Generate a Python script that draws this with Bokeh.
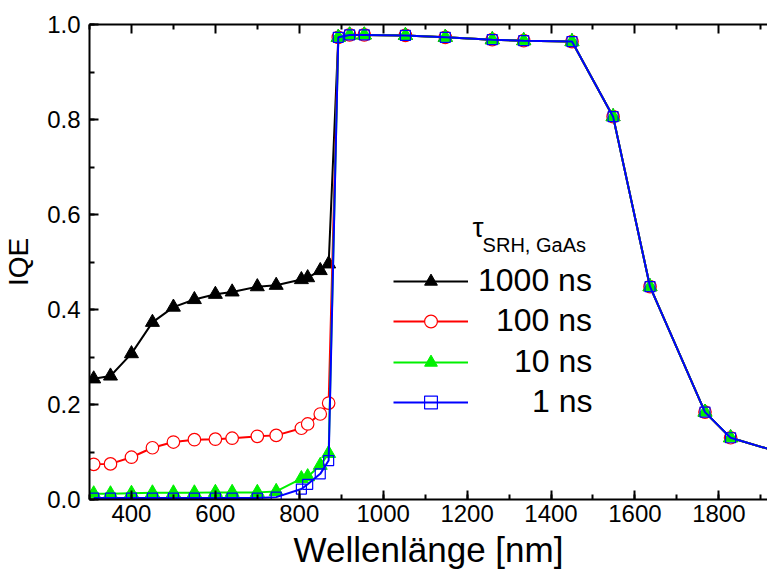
from bokeh.plotting import figure
from bokeh.models import (Legend, LegendItem, LinearAxis, SingleIntervalTicker,
                          FixedTicker, Label, Range1d, PrintfTickFormatter)
from bokeh.embed import file_html
from bokeh.resources import INLINE

# ---------------- data ----------------
wavelength = [310, 350, 400, 450, 500, 550, 600, 640, 700, 745, 805, 820, 850, 870,
              893, 920, 955, 1053, 1148, 1260, 1335, 1450, 1548, 1636, 1767, 1828, 1950]

iqe_1000ns = [0.254, 0.260, 0.307, 0.373, 0.405, 0.421, 0.432, 0.437, 0.448, 0.451,
              0.463, 0.467, 0.482, 0.496,
              0.973, 0.978, 0.978, 0.977, 0.973, 0.968, 0.966, 0.964, 0.806, 0.448,
              0.184, 0.130, 0.098]
iqe_100ns = [0.074, 0.075, 0.089, 0.109, 0.121, 0.126, 0.127, 0.129, 0.133, 0.135,
             0.150, 0.159, 0.180, 0.203,
             0.973, 0.978, 0.978, 0.977, 0.973, 0.968, 0.966, 0.964, 0.806, 0.448,
             0.184, 0.130, 0.098]
iqe_10ns = [0.012, 0.012, 0.013, 0.014, 0.014, 0.014, 0.015, 0.015, 0.015, 0.017,
            0.044, 0.048, 0.072, 0.097,
            0.973, 0.978, 0.978, 0.977, 0.973, 0.968, 0.966, 0.964, 0.806, 0.448,
            0.184, 0.130, 0.098]
iqe_1ns = [0.003, 0.003, 0.003, 0.003, 0.003, 0.003, 0.003, 0.003, 0.003, 0.005,
           0.022, 0.032, 0.054, 0.082,
           0.973, 0.978, 0.978, 0.977, 0.973, 0.968, 0.966, 0.964, 0.806, 0.448,
           0.184, 0.130, 0.098]

series_labels = ["1000 ns", "100 ns", "10 ns", "1 ns"]
x_title = "Wellenlänge [nm]"
y_title = "IQE"
legend_tau = "τ"
legend_sub = "SRH, GaAs"
x_major_ticks = [400, 600, 800, 1000, 1200, 1400, 1600, 1800]
x_minor_ticks = [300, 500, 700, 900, 1100, 1300, 1500, 1700, 1900]

# ---------------- figure ----------------
FONT = "Liberation Sans"
p = figure(width=767, height=576,
           x_range=Range1d(300, 1916), y_range=Range1d(0, 1.0),
           output_backend="svg", toolbar_location=None,
           min_border_left=89, min_border_right=0, min_border_top=24,
           min_border_bottom=77,
           x_axis_label=x_title, y_axis_label=y_title)
p.grid.visible = False
p.outline_line_color = None
p.background_fill_color = "white"
p.border_fill_color = "white"

p.xaxis.ticker = SingleIntervalTicker(interval=200, num_minor_ticks=2)
p.yaxis.ticker = SingleIntervalTicker(interval=0.2, num_minor_ticks=2)
p.yaxis.formatter = PrintfTickFormatter(format="%.1f")

for ax in (p.xaxis[0], p.yaxis[0]):
    ax.axis_line_width = 2
    ax.major_tick_line_width = 2
    ax.minor_tick_line_width = 2
    ax.major_tick_in = 9
    ax.major_tick_out = 0
    ax.minor_tick_in = 5
    ax.minor_tick_out = 0
    ax.major_label_text_font = FONT
    ax.major_label_text_font_size = "24px"
    ax.major_label_text_color = "black"
    ax.axis_label_text_font = FONT
    ax.axis_label_text_font_style = "normal"
    ax.axis_label_text_color = "black"

p.xaxis.major_label_standoff = 5
p.xaxis.axis_label_text_font_size = "35px"
p.xaxis.axis_label_standoff = 5
p.yaxis.major_label_standoff = 9
p.yaxis.axis_label_text_font_size = "28px"
p.yaxis.axis_label_standoff = 10

# top frame edge: long ticks at the major positions, short ticks in between
top_major = LinearAxis(ticker=FixedTicker(ticks=[], minor_ticks=x_major_ticks),
                       axis_line_width=2, minor_tick_line_width=2,
                       minor_tick_in=9, minor_tick_out=0,
                       major_tick_in=0, major_tick_out=0, major_label_standoff=0)
top_minor = LinearAxis(ticker=FixedTicker(ticks=[], minor_ticks=x_minor_ticks),
                       axis_line_color=None, minor_tick_line_width=2,
                       minor_tick_in=5, minor_tick_out=0,
                       major_tick_in=0, major_tick_out=0, major_label_standoff=0)
p.add_layout(top_major, "above")
p.add_layout(top_minor, "above")

# ---------------- series ----------------
l1 = p.line(wavelength, iqe_1000ns, line_color="black", line_width=2)
m1 = p.scatter(wavelength, iqe_1000ns, marker="triangle", size=14,
               fill_color="black", line_color="black")
l2 = p.line(wavelength, iqe_100ns, line_color="#ff0000", line_width=2)
m2 = p.scatter(wavelength, iqe_100ns, marker="circle", size=12.5,
               fill_color="white", line_color="#ff0000", line_width=1.2)
l3 = p.line(wavelength, iqe_10ns, line_color="#00f000", line_width=2)
m3 = p.scatter(wavelength, iqe_10ns, marker="triangle", size=14,
               fill_color="#00f000", line_color="#00f000")
l4 = p.line(wavelength, iqe_1ns, line_color="#0000ff", line_width=2)
m4 = p.scatter(wavelength, iqe_1ns, marker="square", size=10,
               fill_color=None, line_color="#0000ff", line_width=1.2)
renderers = [[l1, m1], [l2, m2], [l3, m3], [l4, m4]]

# ---------------- legend (right-aligned labels) ----------------
LEG_FS = 32
adv = {"0": 0.556, "1": 0.556, " ": 0.278, "n": 0.556, "s": 0.5}
right_edge = 592 - 89      # text right edge, relative to frame left
glyph_x = 393 - 89
glyph_w = 75
item_h = 34
centers = [282, 322, 363, 403]   # screen y of each row centre
for lab, rs, cy in zip(series_labels, renderers, centers):
    w = sum(adv.get(c, 0.556) for c in lab) * LEG_FS
    standoff = int(round(right_edge - w - (glyph_x + glyph_w)))
    leg = Legend(items=[LegendItem(label=lab, renderers=rs)],
                 location=(glyph_x, 499 - cy - item_h / 2),
                 glyph_width=glyph_w, glyph_height=32, label_height=32,
                 label_standoff=standoff, padding=0, margin=0, spacing=0,
                 border_line_color=None, background_fill_alpha=0,
                 label_text_font=FONT, label_text_font_size=f"{LEG_FS}px",
                 label_text_color="black")
    p.add_layout(leg)

p.add_layout(Label(x=1213, y=0.54, text=legend_tau, text_font=FONT,
                   text_font_size="28px", text_color="black"))
p.add_layout(Label(x=1237, y=0.512, text=legend_sub, text_font=FONT,
                   text_font_size="20px", text_color="black"))

open("out.html", "w").write(file_html(p, INLINE))
